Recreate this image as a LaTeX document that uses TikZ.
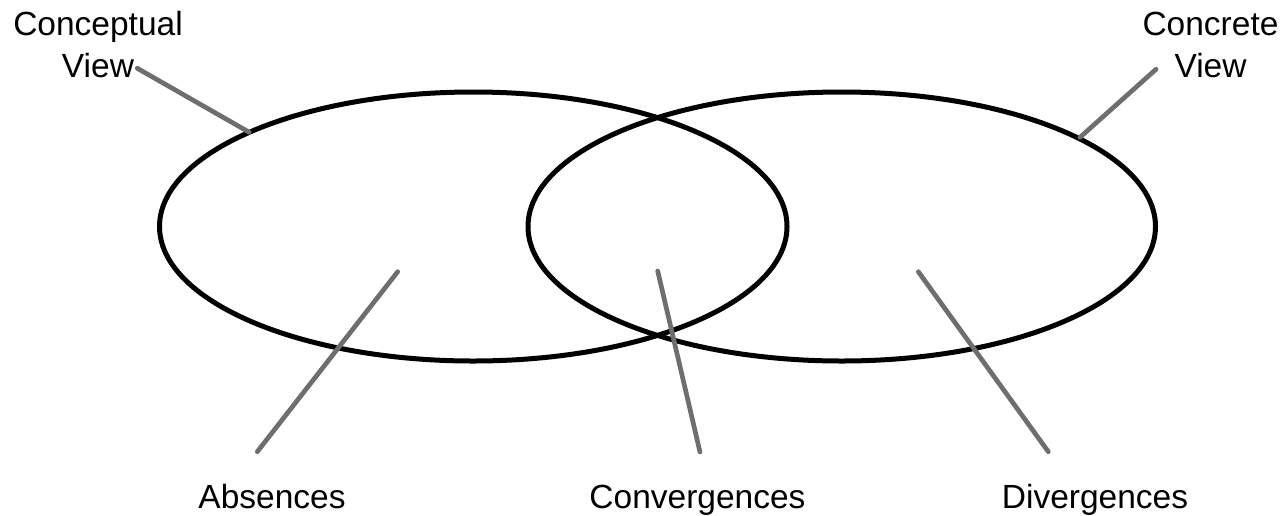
\documentclass[tikz,border=0pt]{standalone}
\usepackage{fontspec}
\setmainfont{Liberation Sans}
\begin{document}
\begin{tikzpicture}[x=1pt,y=-1pt,
  setring/.style={line width=5pt, draw=black},
  callout/.style={line width=4.7pt, draw=black!57, line cap=round},
  lbl/.style={inner sep=0pt, align=center, font=\fontsize{33.5}{42}\selectfont, anchor=base}]
\useasboundingbox (0,0) rectangle (1282,515);
% ellipses
\coordinate (lc) at (473.25,226.5);
\coordinate (rc) at (841.75,226.5);
\draw[setring] (lc) ellipse [x radius=313.75pt, y radius=134.5pt];
\draw[setring] (rc) ellipse [x radius=313.75pt, y radius=134.5pt];
% labels
\node[lbl] (concept) at (98,77) {Conceptual\\View};
\node[lbl] (concrete) at (1210.5,77) {Concrete\\View};
\node[lbl] (abs) at (272,508) {Absences};
\node[lbl] (conv) at (697.5,508) {Convergences};
\node[lbl] (div) at (1095,508) {Divergences};
% callout ends
\coordinate (c1a) at (137.3,68.3); \coordinate (c1b) at (249.3,132.3);
\coordinate (c2a) at (1156,69.3);  \coordinate (c2b) at (1080,137.3);
\coordinate (c3a) at (257.3,451.7); \coordinate (c3b) at (397.7,271.7);
\coordinate (c4a) at (700,452);    \coordinate (c4b) at (657.7,271);
\coordinate (c5a) at (1048.3,451.7); \coordinate (c5b) at (918.3,271.7);
\draw[callout] (c1a) -- (c1b);
\draw[callout] (c2a) -- (c2b);
\draw[callout] (c3a) -- (c3b);
\draw[callout] (c4a) -- (c4b);
\draw[callout] (c5a) -- (c5b);
\end{tikzpicture}
\end{document}
